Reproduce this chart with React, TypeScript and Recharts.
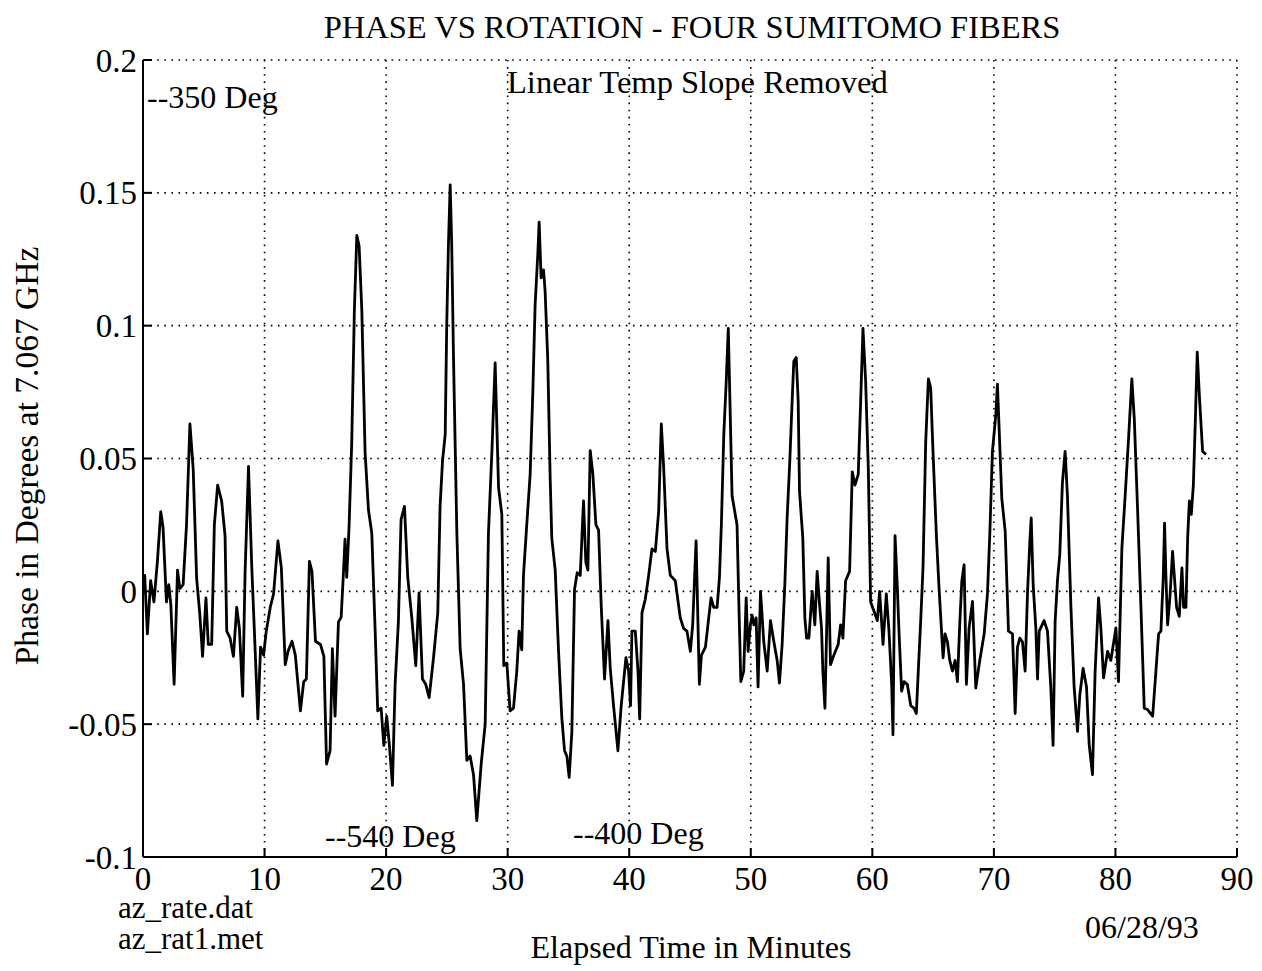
import React from 'react';
import { LineChart, Line, XAxis, YAxis, CartesianGrid } from 'recharts';

const timeMin = [
  0, 0.14, 0.36, 0.63, 0.9, 1.18, 1.46, 1.65, 1.93, 2.12, 2.29, 2.56, 2.84, 3.03, 3.3, 3.58, 3.86, 4.13, 4.41, 4.68,
  4.9, 5.18, 5.37, 5.65, 5.87, 6.14, 6.47, 6.75, 6.89, 7.16, 7.44, 7.71, 7.93, 8.2, 8.4, 8.68, 8.95, 9.23, 9.45, 9.67,
  9.92, 10.14, 10.47, 10.74, 11.1, 11.38, 11.7, 11.93, 12.26, 12.53, 12.95, 13.22, 13.44, 13.69, 13.9, 14.19, 14.6, 14.88,
  15.1, 15.39, 15.58, 15.8, 16.08, 16.3, 16.49, 16.62, 16.76, 16.95, 17.17, 17.39, 17.59, 17.78, 18.0, 18.27, 18.55, 18.82,
  19.1, 19.31, 19.59, 19.81, 20.05, 20.27, 20.52, 20.74, 21.01, 21.23, 21.51, 21.78, 22.11, 22.44, 22.71, 22.99, 23.26,
  23.54, 23.9, 24.25, 24.44, 24.64, 24.86, 24.99, 25.13, 25.27, 25.4, 25.54, 25.82, 26.09, 26.37, 26.64, 26.91, 27.19,
  27.46, 27.82, 28.15, 28.42, 28.7, 28.97, 29.25, 29.52, 29.68,
  29.93, 30.2, 30.48, 30.75, 30.94, 31.16, 31.3, 31.57, 31.85, 32.07, 32.26, 32.48, 32.59, 32.75, 32.95, 33.08, 33.3, 33.5,
  33.63, 33.91, 34.18, 34.46, 34.68, 34.87, 35.06, 35.28, 35.5, 35.72, 35.97, 36.24, 36.43, 36.6, 36.79, 37.01, 37.26,
  37.48, 37.7, 37.97, 38.25, 38.44, 38.71, 39.07, 39.34, 39.73, 39.95, 40.11, 40.22, 40.5, 40.72, 40.86, 41.05, 41.32,
  41.6, 41.87, 42.15, 42.42, 42.64, 42.83, 43.11, 43.38, 43.79, 44.2, 44.48, 44.75,
  45.03, 45.22, 45.5, 45.77, 45.94, 46.27, 46.54, 46.73, 46.95, 47.23, 47.42, 47.58, 47.78, 47.97, 48.15, 48.46, 48.87,
  49.0, 49.18, 49.42, 49.62, 49.78, 49.97, 50.11, 50.25, 50.44, 50.6, 50.8, 51.07, 51.35, 51.62, 51.9, 52.17, 52.36,
  52.58, 52.8, 52.99, 53.21, 53.4, 53.54, 53.74, 53.9, 54.01, 54.28, 54.45, 54.59, 54.78, 55.05, 55.27, 55.46, 55.66,
  55.82, 55.93, 56.1, 56.37, 56.56, 56.84, 57.19, 57.39, 57.58, 57.8, 58.13, 58.35, 58.57, 58.84,
  59.04, 59.23, 59.45, 59.67, 59.86, 60.14, 60.41, 60.6, 60.88, 61.15, 61.37, 61.59, 61.7, 61.87, 62.06, 62.2, 62.41,
  62.61, 62.88, 63.16, 63.43, 63.62, 63.79, 63.98, 64.17, 64.39, 64.61, 64.8, 64.99, 65.27, 65.49, 65.82, 65.98, 66.18,
  66.37, 66.59, 66.81, 67.0, 67.19, 67.36, 67.55, 67.74, 67.96, 68.24, 68.51, 68.84, 69.2, 69.47, 69.66, 69.88, 70.16,
  70.29, 70.43, 70.65, 70.93, 71.2, 71.53, 71.75, 71.94, 72.13, 72.35, 72.57, 72.77, 72.96, 73.07, 73.23, 73.45, 73.59,
  73.73, 74.13, 74.41, 74.68, 74.87, 75.04, 75.23, 75.42, 75.64, 75.86, 76.05, 76.33, 76.6, 76.88, 77.07, 77.34, 77.62,
  77.84, 78.11, 78.33, 78.61, 78.8, 79.02, 79.35, 79.62, 80.04, 80.25, 80.53, 80.8, 81.08, 81.35, 81.55, 81.82, 82.09,
  82.37, 82.64, 83.06, 83.33, 83.55, 83.74, 83.93, 84.04, 84.15, 84.29, 84.48, 84.7, 84.84, 85.03, 85.25, 85.47, 85.61,
  85.8, 85.94, 86.08, 86.24, 86.41, 86.57, 86.73, 86.9, 87.17, 87.45,
];

const phaseDeg = [
  0.006, 0.006, -0.016, 0.004, -0.004, 0.011, 0.03, 0.024, -0.004, 0.0025, -0.005, -0.035, 0.008, 0.001, 0.0025, 0.025, 0.063, 0.046, 0.005, -0.009,
  -0.0245, -0.0025, -0.02, -0.02, 0.025, 0.04, 0.034, 0.021, -0.015, -0.0175, -0.0245, -0.006, -0.014, -0.0395, 0.0075, 0.047, 0.009, -0.0226, -0.048, -0.021,
  -0.024, -0.015, -0.006, -0.001, 0.019, 0.009, -0.0276, -0.0226, -0.0188, -0.024, -0.045, -0.034, -0.033, 0.0113, 0.0075, -0.0188, -0.02, -0.0245,
  -0.065, -0.06, -0.0216, -0.047, -0.0115, -0.0098, 0.007, 0.0196, 0.0053, 0.024, 0.0557, 0.106, 0.134, 0.13, 0.106, 0.0524, 0.0305, 0.022,
  -0.0149, -0.045, -0.044, -0.058, -0.047, -0.058, -0.073, -0.035, -0.0115, 0.027, 0.032, 0.0053, -0.0098, -0.028, -0.0006, -0.033, -0.035,
  -0.04, -0.025, -0.008, 0.032, 0.049, 0.059, 0.101, 0.131, 0.153, 0.13, 0.089, 0.022, -0.0216, -0.035, -0.0636, -0.062, -0.069,
  -0.0863, -0.065, -0.05, 0.022, 0.0524, 0.086, 0.039, 0.029, -0.028,
  -0.027, -0.045, -0.044, -0.03, -0.015, -0.022, 0.006, 0.025, 0.044, 0.075, 0.108, 0.127, 0.139, 0.118, 0.121, 0.113, 0.087, 0.042,
  0.02, 0.008, -0.022, -0.048, -0.06, -0.062, -0.07, -0.053, 0.0007, 0.007, 0.006, 0.034, 0.011, 0.008, 0.053, 0.044, 0.025,
  0.023, -0.006, -0.033, -0.011, -0.029, -0.043, -0.06, -0.043, -0.025, -0.03, -0.043, -0.015, -0.015, -0.03, -0.048, -0.008, -0.003,
  0.006, 0.016, 0.015, 0.03, 0.063, 0.047, 0.016, 0.006, 0.004, -0.01, -0.014, -0.015,
  -0.0226, -0.0126, 0.019, -0.035, -0.024, -0.021, -0.01, -0.0025, -0.006, -0.006, 0.005, 0.025, 0.059, 0.078, 0.099, 0.036, 0.025,
  -0.001, -0.034, -0.03, -0.0025, -0.0226, -0.0126, -0.009, -0.0126, -0.01, -0.036, 0.0, -0.019, -0.03, -0.011, -0.019, -0.026, -0.0345,
  -0.02, 0.0025, 0.0276, 0.049, 0.0715, 0.0866, 0.088, 0.0715, 0.0376, 0.02, -0.01, -0.0176, -0.0176, 0.0, -0.0126, 0.0075, -0.005,
  -0.0138, -0.03, -0.044, 0.0126, -0.0276, -0.024, -0.02, -0.0126, -0.0176, 0.004, 0.0075, 0.045, 0.04, 0.044,
  0.0715, 0.099, 0.079, 0.046, -0.004, -0.0075, -0.011, 0.0, -0.02, -0.001, -0.015, -0.035, -0.054, 0.021, 0.001, -0.016, -0.0376,
  -0.034, -0.035, -0.043, -0.044, -0.046, -0.029, -0.011, 0.009, 0.056, 0.08, 0.0766, 0.0527, 0.021, 0.001, -0.025, -0.016, -0.019,
  -0.026, -0.03, -0.026, -0.034, -0.0126, 0.0038, 0.01, -0.035, -0.0138, -0.0038, -0.0364, -0.026, -0.016, -0.001, 0.021, 0.0527, 0.0665,
  0.078, 0.0615, 0.035, 0.0226, -0.015, -0.016, -0.046, -0.021, -0.0176, -0.019, -0.03, 0.0, 0.019, 0.0276, 0.0025, -0.0138, -0.033,
  -0.015, -0.011, -0.015, -0.036, -0.058, -0.011, 0.004, 0.0138, 0.041, 0.0527, 0.036, -0.005, -0.036, -0.0527, -0.039, -0.029, -0.036,
  -0.0577, -0.069, -0.03, -0.0025, -0.0138, -0.0326, -0.0226, -0.026, -0.0138, -0.034, 0.0163, 0.036, 0.0577, 0.08, 0.065, 0.031, -0.005,
  -0.044, -0.0445, -0.047, -0.03, -0.016, -0.015, 0.005, 0.0257, 0.006, -0.0126, -0.0025, 0.015, 0.006, -0.006, -0.0094, 0.0088, -0.006,
  -0.006, 0.02, 0.034, 0.029, 0.04, 0.064, 0.09, 0.074, 0.0527, 0.0515,
];

const xTicks = [0, 10, 20, 30, 40, 50, 60, 70, 80, 90];
const yTicks = [-0.1, -0.05, 0, 0.05, 0.1, 0.15, 0.2];

const titleText = 'PHASE VS ROTATION - FOUR SUMITOMO FIBERS';
const subtitleText = 'Linear Temp Slope Removed';
const xLabelText = 'Elapsed Time in Minutes';
const yLabelText = 'Phase in Degrees at 7.067 GHz';
const annotations = ['--350 Deg', '--540 Deg', '--400 Deg'];
const fileNames = ['az_rate.dat', 'az_rat1.met'];
const dateText = '06/28/93';

const data = timeMin.map((t, i) => ({ t, v: phaseDeg[i] }));

const FONT = '"Liberation Serif", "Times New Roman", serif';
const TICK_FS = 33;
const IN = 9;

const fmtY = (v: number) => (v === 0 ? '0' : String(parseFloat(v.toFixed(2))));

const BottomTick = (props: any) => {
  const { x, y, payload } = props;
  const axisY = y - 10;
  return (
    <g>
      <line x1={x} x2={x} y1={axisY} y2={axisY - IN} stroke="#000" strokeWidth={2} />
      <text x={x} y={y} dy="0.7em" textAnchor="middle" fontSize={TICK_FS} fontFamily={FONT} fill="#000">
        {payload.value}
      </text>
    </g>
  );
};

const TopTick = (props: any) => {
  const { x, y } = props;
  const axisY = y + 10;
  return <line x1={x} x2={x} y1={axisY} y2={axisY + IN} stroke="#000" strokeWidth={2} />;
};

const LeftTick = (props: any) => {
  const { x, y, payload } = props;
  const axisX = x + 6;
  return (
    <g>
      <line x1={axisX} x2={axisX + IN} y1={y} y2={y} stroke="#000" strokeWidth={2} />
      <text x={x} y={y} dy="0.35em" textAnchor="end" fontSize={TICK_FS} fontFamily={FONT} fill="#000">
        {fmtY(payload.value)}
      </text>
    </g>
  );
};

const RightTick = (props: any) => {
  const { x, y } = props;
  const axisX = x - 6;
  return <line x1={axisX} x2={axisX - IN} y1={y} y2={y} stroke="#000" strokeWidth={2} />;
};

const textStyle = { fontFamily: FONT, fill: '#000' } as const;

export default function App() {
  return (
    <div style={{ position: 'absolute', left: 0, top: 0, width: 1262, height: 971, background: '#fff' }}>
      <LineChart width={1262} height={971} data={data} margin={{ top: 60, right: 25, bottom: 74, left: 83 }}>
        <CartesianGrid stroke="#000" strokeWidth={1.6} strokeDasharray="1.6 5.5" horizontalValues={yTicks} verticalValues={xTicks} />
        <XAxis
          dataKey="t"
          type="number"
          domain={[0, 90]}
          ticks={xTicks}
          interval={0}
          height={40}
          tickSize={10}
          tickMargin={0}
          tickLine={false}
          axisLine={{ stroke: '#000', strokeWidth: 2 }}
          tick={<BottomTick />}
          allowDataOverflow
        />
        <XAxis
          xAxisId="top"
          orientation="top"
          dataKey="t"
          type="number"
          domain={[0, 90]}
          ticks={xTicks}
          interval={0}
          height={0}
          tickSize={10}
          tickMargin={0}
          tickLine={false}
          axisLine={{ stroke: '#000', strokeWidth: 2 }}
          tick={<TopTick />}
          allowDataOverflow
        />
        <YAxis
          dataKey="v"
          type="number"
          domain={[-0.1, 0.2]}
          ticks={yTicks}
          interval={0}
          width={60}
          tickSize={6}
          tickMargin={0}
          tickLine={false}
          axisLine={{ stroke: '#000', strokeWidth: 2 }}
          tick={<LeftTick />}
          allowDataOverflow
        />
        <YAxis
          yAxisId="right"
          orientation="right"
          dataKey="v"
          type="number"
          domain={[-0.1, 0.2]}
          ticks={yTicks}
          interval={0}
          width={0}
          tickSize={6}
          tickMargin={0}
          tickLine={false}
          axisLine={{ stroke: '#000', strokeWidth: 2 }}
          tick={<RightTick />}
          allowDataOverflow
        />
        <Line
          type="linear"
          dataKey="v"
          stroke="#000"
          strokeWidth={2.8}
          dot={false}
          activeDot={false}
          isAnimationActive={false}
          strokeLinejoin="round"
        />
      </LineChart>
      <svg width={1262} height={971} style={{ position: 'absolute', left: 0, top: 0, pointerEvents: 'none' }}>
        <text x={692} y={38} textAnchor="middle" fontSize={32.5} style={textStyle}>{titleText}</text>
        <text x={507} y={93} fontSize={32.5} style={textStyle}>{subtitleText}</text>
        <text x={147} y={108} fontSize={32} style={textStyle}>{annotations[0]}</text>
        <text x={325} y={847} fontSize={32} style={textStyle}>{annotations[1]}</text>
        <text x={573} y={844} fontSize={32} style={textStyle}>{annotations[2]}</text>
        <text x={118} y={918} fontSize={31} style={textStyle}>{fileNames[0]}</text>
        <text x={118} y={949} fontSize={31} style={textStyle}>{fileNames[1]}</text>
        <text x={1085} y={938} fontSize={32} style={textStyle}>{dateText}</text>
        <text x={691} y={958} textAnchor="middle" fontSize={32} style={textStyle}>{xLabelText}</text>
        <text x={0} y={0} textAnchor="middle" fontSize={33.5} style={textStyle} transform="translate(38, 456) rotate(-90)">{yLabelText}</text>
      </svg>
    </div>
  );
}
